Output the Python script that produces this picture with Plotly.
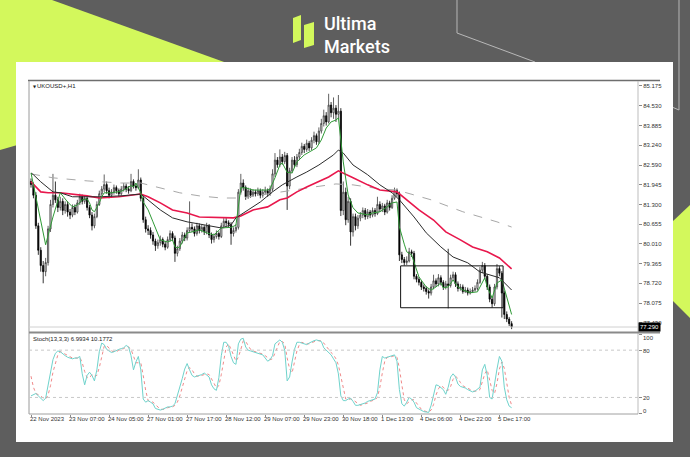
import plotly.graph_objects as go

# ---------------- UKOUSD+ H1 bars ----------------
opens = [82.05, 81.95, 81.60, 80.60, 79.80, 79.30, 79.10, 79.40, 80.50, 81.30,
         81.60, 81.45, 81.20, 81.40, 81.10, 81.30, 81.05, 80.95, 81.20, 81.05,
         81.35, 81.55, 81.40, 81.50, 81.20, 80.95, 80.60, 80.90, 81.30, 81.65,
         81.80, 81.95, 81.75, 81.60, 81.70, 81.85, 81.75, 81.65, 81.80, 81.90,
         81.80, 81.75, 82.05, 81.90, 81.85, 82.10, 81.50, 80.80, 80.50, 80.45,
         80.30, 80.10, 79.95, 80.05, 80.15, 80.00, 79.90, 80.15, 80.35, 80.20,
         79.70, 79.85, 80.10, 80.30, 80.20, 80.45, 80.55, 80.50, 80.35, 80.60,
         80.45, 80.55, 80.40, 80.60, 80.30, 80.15, 80.25, 80.35, 80.25, 80.60,
         80.75, 80.70, 80.65, 80.35, 80.45, 80.55, 81.70, 82.00, 81.85, 81.55,
         81.75, 81.60, 81.70, 81.65, 81.75, 81.60, 81.70, 81.75, 81.65, 81.80,
         82.30, 82.75, 82.60, 82.85, 82.70, 82.90, 81.90, 82.40, 82.75, 82.60,
         82.85, 83.00, 83.20, 83.10, 83.30, 83.15, 83.40, 83.55, 83.35, 83.70,
         83.95, 84.20, 84.00, 84.55, 84.30, 84.45, 84.25, 84.35, 81.10, 81.70,
         80.80, 81.40, 80.40, 80.90, 80.60, 80.85, 80.95, 81.10, 80.90, 81.05,
         80.95, 81.10, 81.00, 81.30, 81.15, 81.25, 81.05, 81.35, 81.20, 81.50,
         81.75, 81.65, 79.65, 79.50, 79.40, 79.45, 79.75, 79.70, 78.95, 78.85,
         78.75, 78.60, 78.55, 78.45, 78.40, 78.60, 78.80, 78.70, 78.90, 78.75,
         78.60, 78.70, 78.65, 78.90, 79.00, 78.70, 78.55, 78.60, 78.45, 78.50,
         78.40, 78.45, 78.50, 78.55, 78.75, 79.15, 79.30, 78.95, 78.60, 78.20,
         78.05, 78.60, 79.20, 79.05, 78.40, 77.70, 77.55, 77.40]

highs = [82.15, 82.02, 81.70, 80.70, 79.90, 79.45, 79.55, 80.60, 81.45, 82.30,
         82.05, 81.55, 81.55, 81.50, 81.40, 81.40, 81.15, 81.30, 81.30, 81.45,
         81.65, 81.62, 81.60, 81.58, 81.28, 81.05, 81.00, 81.40, 81.75, 81.90,
         82.28, 82.05, 81.85, 81.80, 81.95, 81.92, 81.82, 81.90, 82.00, 81.98,
         81.90, 82.30, 82.12, 81.98, 82.45, 82.18, 81.58, 80.90, 80.62, 80.55,
         80.40, 80.18, 80.15, 80.28, 80.22, 80.10, 80.25, 80.45, 80.42, 80.28,
         79.95, 80.20, 80.40, 80.38, 80.55, 81.40, 80.68, 80.58, 80.70, 80.68,
         80.65, 80.62, 80.70, 80.66, 80.38, 80.35, 80.45, 80.42, 80.70, 80.85,
         80.85, 80.78, 80.72, 80.55, 80.65, 81.80, 82.30, 82.12, 81.92, 81.85,
         81.82, 81.80, 81.78, 81.85, 81.82, 81.80, 81.88, 81.82, 81.92, 82.45,
         82.98, 82.85, 83.10, 82.95, 83.02, 82.98, 82.50, 82.85, 82.88, 82.95,
         83.12, 83.32, 83.28, 83.42, 83.38, 83.50, 83.68, 83.62, 83.82, 84.10,
         84.40, 84.32, 84.92, 84.65, 84.80, 84.55, 84.88, 84.45, 82.05, 81.85,
         81.55, 81.50, 81.00, 81.00, 80.95, 81.05, 81.20, 81.18, 81.15, 81.12,
         81.20, 81.18, 81.55, 81.40, 81.35, 81.32, 81.45, 81.42, 81.60, 81.85,
         81.82, 81.72, 79.75, 79.58, 79.60, 79.88, 79.82, 79.78, 79.02, 78.92,
         78.82, 78.68, 78.62, 78.52, 78.70, 79.00, 78.88, 79.02, 78.98, 78.82,
         78.80, 79.85, 79.00, 79.10, 79.08, 78.78, 78.70, 78.68, 78.60, 78.58,
         78.55, 78.60, 78.65, 78.85, 79.25, 79.42, 79.38, 79.02, 78.68, 78.28,
         78.70, 79.35, 79.28, 79.12, 78.48, 77.80, 77.62, 77.48]

lows = [81.85, 81.50, 80.50, 79.65, 79.10, 78.72, 78.95, 79.30, 80.40, 81.20,
        81.35, 81.05, 81.10, 80.95, 81.00, 80.90, 80.82, 80.88, 80.95, 81.00,
        81.28, 81.30, 81.32, 81.10, 80.85, 80.45, 80.52, 80.85, 81.25, 81.58,
        81.70, 81.65, 81.50, 81.52, 81.62, 81.65, 81.55, 81.58, 81.72, 81.70,
        81.65, 81.70, 81.82, 81.75, 81.80, 81.40, 80.70, 80.38, 80.30, 80.18,
        79.98, 79.78, 79.85, 79.95, 79.90, 79.80, 79.85, 80.08, 80.10, 79.42,
        79.60, 79.78, 80.02, 80.10, 80.12, 80.38, 80.40, 80.25, 80.28, 80.35,
        80.38, 80.30, 80.32, 80.20, 80.02, 80.05, 80.18, 80.15, 80.20, 80.52,
        80.60, 80.55, 79.98, 80.25, 80.38, 80.48, 81.62, 81.75, 81.45, 81.48,
        81.52, 81.55, 81.56, 81.58, 81.50, 81.52, 81.62, 81.55, 81.58, 81.72,
        82.20, 82.50, 82.52, 82.60, 82.62, 81.12, 81.80, 82.32, 82.50, 82.52,
        82.75, 82.92, 82.98, 83.02, 83.05, 83.08, 83.30, 83.25, 83.28, 83.62,
        83.85, 83.88, 83.95, 84.15, 84.10, 84.00, 84.10, 80.92, 80.95, 80.62,
        80.70, 79.95, 80.25, 80.45, 80.50, 80.75, 80.85, 80.80, 80.82, 80.85,
        80.88, 80.90, 80.95, 81.05, 81.05, 80.95, 81.00, 81.10, 81.15, 81.45,
        81.55, 79.45, 79.38, 79.30, 79.32, 79.40, 79.58, 78.85, 78.75, 78.65,
        78.50, 78.45, 78.35, 78.22, 78.32, 78.52, 78.60, 78.62, 78.65, 78.50,
        78.52, 77.90, 78.58, 78.82, 78.60, 78.45, 78.48, 78.38, 78.40, 78.32,
        78.35, 78.40, 78.45, 78.48, 78.70, 79.05, 78.85, 78.50, 78.10, 77.92,
        77.98, 78.52, 78.95, 77.60, 77.55, 77.45, 77.32, 77.22]

closes = [81.95, 81.60, 80.60, 79.80, 79.30, 79.10, 79.40, 80.50, 81.30, 81.60,
          81.45, 81.20, 81.40, 81.10, 81.30, 81.05, 80.95, 81.20, 81.05, 81.35,
          81.55, 81.40, 81.50, 81.20, 80.95, 80.60, 80.90, 81.30, 81.65, 81.80,
          81.95, 81.75, 81.60, 81.70, 81.85, 81.75, 81.65, 81.80, 81.90, 81.80,
          81.75, 82.05, 81.90, 81.85, 82.10, 81.50, 80.80, 80.50, 80.45, 80.30,
          80.10, 79.95, 80.05, 80.15, 80.00, 79.90, 80.15, 80.35, 80.20, 79.70,
          79.85, 80.10, 80.30, 80.20, 80.45, 80.55, 80.50, 80.35, 80.60, 80.45,
          80.55, 80.40, 80.60, 80.30, 80.15, 80.25, 80.35, 80.25, 80.60, 80.75,
          80.70, 80.65, 80.35, 80.45, 80.55, 81.70, 82.00, 81.85, 81.55, 81.75,
          81.60, 81.70, 81.65, 81.75, 81.60, 81.70, 81.75, 81.65, 81.80, 82.30,
          82.75, 82.60, 82.85, 82.70, 82.90, 81.90, 82.40, 82.75, 82.60, 82.85,
          83.00, 83.20, 83.10, 83.30, 83.15, 83.40, 83.55, 83.35, 83.70, 83.95,
          84.20, 84.00, 84.55, 84.30, 84.45, 84.25, 84.35, 81.10, 81.70, 80.80,
          81.40, 80.40, 80.90, 80.60, 80.85, 80.95, 81.10, 80.90, 81.05, 80.95,
          81.10, 81.00, 81.30, 81.15, 81.25, 81.05, 81.35, 81.20, 81.50, 81.75,
          81.65, 79.65, 79.50, 79.40, 79.45, 79.75, 79.70, 78.95, 78.85, 78.75,
          78.60, 78.55, 78.45, 78.40, 78.60, 78.80, 78.70, 78.90, 78.75, 78.60,
          78.70, 78.65, 78.90, 79.00, 78.70, 78.55, 78.60, 78.45, 78.50, 78.40,
          78.45, 78.50, 78.55, 78.75, 79.15, 79.30, 78.95, 78.60, 78.20, 78.05,
          78.60, 79.20, 79.05, 78.40, 77.70, 77.55, 77.40, 77.29]

bars = list(range(len(closes)))

# ---------------- moving averages (bar index, value) ----------------
fast_ma_bars = [0, 6, 9, 12, 15, 17, 19, 21, 23, 24, 25, 26, 28, 29, 30, 33, 37, 39, 41, 42,
                43, 45, 46, 48, 50, 52, 53, 56, 58, 59, 60, 61, 62, 64, 66, 69, 72, 75, 78, 82,
                84, 85, 86, 88, 91, 97, 98, 100, 102, 103, 105, 107, 109, 112, 114, 117, 119, 121, 123, 125,
                126, 128, 130, 132, 134, 138, 140, 143, 146, 148, 150, 151, 153, 154, 156, 157, 159, 162, 164, 166,
                168, 169, 171, 173, 175, 177, 180, 183, 185, 186, 187, 189, 191, 193, 195, 197]
fast_ma = [82.33, 79.98, 80.89, 81.68, 81.38, 81.22, 81.28, 81.45, 81.48, 81.35, 81.12, 81.06, 81.35, 81.55, 81.68, 81.68, 81.73, 81.81, 81.92, 81.87,
           82.00, 81.68, 81.38, 81.12, 80.73, 80.37, 80.14, 80.07, 80.14, 79.91, 79.88, 79.91, 80.07, 80.37, 80.40, 80.47, 80.37, 80.30, 80.53, 80.55,
           80.62, 81.30, 81.85, 81.84, 81.77, 81.77, 81.81, 82.17, 82.59, 82.66, 82.35, 82.33, 82.69, 82.92, 83.02, 83.15, 83.41, 83.80, 84.00, 84.06,
           84.13, 82.69, 81.61, 81.19, 81.02, 80.96, 81.02, 81.06, 81.22, 81.35, 81.38, 80.56, 80.00, 79.75, 79.65, 79.39, 78.93, 78.60, 78.50, 78.60,
           78.73, 78.57, 78.60, 78.83, 78.60, 78.50, 78.41, 78.44, 78.73, 78.90, 78.60, 78.24, 78.73, 78.83, 78.27, 77.70]

mid_ma_bars = [0, 1, 4, 7, 9, 12, 17, 28, 37, 45, 48, 53, 58, 64, 69, 78, 82, 84, 89, 94, 99,
               103, 109, 113, 118, 121, 124, 126, 128, 132, 138, 143, 148, 151, 157, 162, 168, 173, 179, 184, 188, 192, 197]
mid_ma = [82.33, 82.27, 82.04, 81.84, 81.71, 81.68, 81.55, 81.55, 81.58, 81.64, 81.45, 81.12, 80.86, 80.73, 80.66, 80.53, 80.63, 80.86, 81.12, 81.38, 81.71,
          81.94, 82.20, 82.36, 82.59, 82.76, 82.92, 83.08, 82.98, 82.59, 82.27, 81.94, 81.68, 81.45, 80.89, 80.37, 79.91, 79.58, 79.39, 79.09, 78.99, 78.90, 78.50]

slow_ma_bars = [0, 4, 7, 12, 23, 28, 36, 41, 45, 48, 53, 58, 64, 69, 77, 83, 86, 91, 97, 102,
                105, 109, 113, 118, 122, 126, 128, 132, 138, 143, 150, 154, 159, 165, 170, 176, 181, 187, 192, 197]
slow_ma = [82.04, 81.71, 81.68, 81.68, 81.58, 81.51, 81.55, 81.61, 81.64, 81.55, 81.35, 81.12, 81.02, 80.89, 80.86, 80.86, 80.92, 81.12, 81.22, 81.45,
           81.51, 81.71, 81.87, 82.04, 82.20, 82.40, 82.33, 82.17, 81.94, 81.77, 81.71, 81.45, 81.12, 80.79, 80.40, 80.14, 79.91, 79.75, 79.55, 79.19]

long_ma_bars = [0, 9, 23, 37, 45, 53, 61, 69, 78, 86, 94, 105, 116, 125, 132, 143, 150, 164, 177, 191, 197]
long_ma = [82.30, 82.17, 82.07, 82.00, 82.00, 81.84, 81.68, 81.58, 81.51, 81.51, 81.61, 81.74, 81.87, 81.97, 81.94, 81.81, 81.77, 81.45, 81.06, 80.73, 80.56]

# ---------------- Stochastic (13,3,3) ----------------
stoch_main = [22, 24, 25, 22, 19, 16, 19, 35, 52, 68,
              76, 79, 78, 75, 73, 71, 70, 69, 70, 70,
              72, 50, 36, 48, 52, 48, 41, 55, 78, 89,
              87, 81, 79, 77, 78, 80, 81, 82, 83, 86,
              84, 73, 55, 65, 72, 55, 18, 14, 16, 14,
              12, 6, 5, 4, 5, 7, 8, 8, 9, 12,
              22, 31, 44, 56, 63, 55, 48, 46, 47, 48,
              49, 51, 49, 46, 36, 31, 29, 45, 73, 90,
              90, 85, 72, 64, 62, 88, 94, 95, 84, 80,
              79, 78, 77, 76, 75, 74, 70, 66, 68, 73,
              88, 91, 93, 90, 80, 41, 46, 65, 81, 90,
              90, 89, 88, 87, 89, 91, 92, 93, 92, 91,
              83, 80, 78, 74, 69, 64, 50, 22, 16, 16,
              18, 19, 15, 10, 10, 11, 12, 13, 15, 16,
              17, 18, 26, 55, 72, 70, 71, 72, 73, 74,
              66, 30, 12, 9, 14, 20, 18, 14, 7, 5,
              3, 2, 1.5, 1, 10, 22, 36, 35, 33, 30,
              24, 33, 46, 50, 46, 37, 34, 33, 32, 30,
              28, 27, 28, 30, 33, 55, 62, 48, 20, 18,
              40, 56, 72, 66, 33, 17, 9, 6.9934]

stoch_signal = [47, 33, 25, 24, 22, 19, 18, 23, 35, 52,
                65, 74, 78, 77, 75, 73, 71, 70, 70, 70,
                71, 64, 53, 45, 45, 49, 47, 48, 58, 74,
                85, 86, 82, 79, 78, 78, 80, 81, 82, 84,
                84, 81, 71, 64, 64, 64, 48, 29, 16, 15,
                14, 11, 8, 5, 5, 5, 7, 8, 8, 10,
                14, 22, 32, 44, 54, 58, 55, 50, 47, 47,
                48, 49, 50, 49, 44, 38, 32, 35, 49, 69,
                84, 88, 82, 74, 66, 71, 81, 92, 91, 86,
                81, 79, 78, 77, 76, 75, 73, 70, 68, 69,
                76, 84, 91, 91, 88, 70, 56, 51, 64, 79,
                87, 90, 89, 88, 88, 89, 91, 92, 92, 92,
                89, 85, 80, 77, 74, 69, 61, 45, 29, 18,
                17, 18, 17, 15, 12, 10, 11, 12, 13, 15,
                16, 17, 20, 33, 51, 66, 71, 71, 72, 73,
                71, 57, 36, 17, 12, 14, 17, 17, 13, 9,
                5, 3, 2, 1.5, 4, 11, 23, 31, 35, 33,
                29, 29, 34, 43, 47, 44, 39, 35, 33, 32,
                30, 28, 28, 28, 30, 39, 50, 55, 43, 29,
                25, 38, 56, 65, 57, 39, 20, 10.1772]

stoch_levels = [20, 80]
stoch_labels = [100, 80, 20, 0]

# ---------------- axes text ----------------
price_ticks = [85.175, 84.530, 83.885, 83.240, 82.590, 81.945, 81.300,
               80.655, 80.010, 79.365, 78.720, 78.075, 77.430]
date_tick_bars = [0, 16, 32, 48, 64, 80, 96, 112, 128, 144, 160, 176, 192]
date_labels = ["22 Nov 2023", "23 Nov 07:00", "24 Nov 05:00", "27 Nov 01:00",
               "27 Nov 17:00", "28 Nov 12:00", "29 Nov 07:00", "29 Nov 23:00",
               "30 Nov 18:00", "1 Dec 13:00", "4 Dec 06:00", "4 Dec 22:00",
               "5 Dec 17:00"]
last_price = 77.29

# consolidation range drawn on the chart
range_box_bars = [151.5, 193.5]
range_box_prices = [77.92, 79.29]

# ---------------- page geometry (pixels) ----------------
W, H = 690, 457
L, R, T, B = 29, 638, 81, 414


def fx(px):
    return (px - L) / (R - L)


def fy(py):
    return (B - py) / (B - T)


def poly(points):
    return "M " + " L ".join(f"{fx(x):.5f},{fy(y):.5f}" for x, y in points) + " Z"


def polyline(points):
    return "M " + " L ".join(f"{fx(x):.5f},{fy(y):.5f}" for x, y in points)


LIME = "#d3f85c"
BG = "#5e5e5e"
FONT = "Liberation Sans"

fig = go.Figure()

fig.add_trace(go.Candlestick(
    x=bars, open=opens, high=highs, low=lows, close=closes,
    increasing=dict(line=dict(color="#3a3a3a", width=0.8), fillcolor="#ffffff"),
    decreasing=dict(line=dict(color="#000000", width=0.8), fillcolor="#000000"),
    whiskerwidth=0, showlegend=False, hoverinfo="skip",
    xaxis="x", yaxis="y"))

fig.add_trace(go.Scatter(x=long_ma_bars, y=long_ma, mode="lines",
                         line=dict(color="#a8a8a8", width=1, dash="dash"),
                         showlegend=False, hoverinfo="skip", xaxis="x", yaxis="y"))
fig.add_trace(go.Scatter(x=slow_ma_bars, y=slow_ma, mode="lines",
                         line=dict(color="#e8174c", width=1.6),
                         showlegend=False, hoverinfo="skip", xaxis="x", yaxis="y"))
fig.add_trace(go.Scatter(x=mid_ma_bars, y=mid_ma, mode="lines",
                         line=dict(color="#2b2b2b", width=1),
                         showlegend=False, hoverinfo="skip", xaxis="x", yaxis="y"))
fig.add_trace(go.Scatter(x=fast_ma_bars, y=fast_ma, mode="lines",
                         line=dict(color="#2f9a36", width=1),
                         showlegend=False, hoverinfo="skip", xaxis="x", yaxis="y"))

fig.add_trace(go.Scatter(x=bars, y=stoch_signal, mode="lines",
                         line=dict(color="#f08a8a", width=1, dash="dot"),
                         showlegend=False, hoverinfo="skip", xaxis="x", yaxis="y2"))
fig.add_trace(go.Scatter(x=bars, y=stoch_main, mode="lines",
                         line=dict(color="#6fd3cc", width=1),
                         showlegend=False, hoverinfo="skip", xaxis="x", yaxis="y2"))

shapes = []
# branded backdrop
shapes.append(dict(type="path", path=poly([(0, 0), (52, 0), (260, 75), (0, 150)]),
                   xref="paper", yref="paper", fillcolor=LIME, line=dict(width=0), layer="below"))
shapes.append(dict(type="path", path=poly([(690, 205), (672, 222), (672, 300), (690, 318)]),
                   xref="paper", yref="paper", fillcolor=LIME, line=dict(width=0), layer="below"))
shapes.append(dict(type="path", path=polyline([(457, 0), (457, 33), (535, 62)]),
                   xref="paper", yref="paper", line=dict(color="#b8b8b8", width=1), layer="below"))
shapes.append(dict(type="path", path=polyline([(679, 0), (679, 110), (672, 107)]),
                   xref="paper", yref="paper", line=dict(color="#b8b8b8", width=1), layer="below"))
shapes.append(dict(type="rect", x0=fx(16), x1=fx(673), y0=fy(442), y1=fy(62),
                   xref="paper", yref="paper", fillcolor="#ffffff", line=dict(width=0), layer="below"))
# logo mark
shapes.append(dict(type="path", path=poly([(293, 18), (301, 15), (301, 40), (293, 43)]),
                   xref="paper", yref="paper", fillcolor=LIME, line=dict(width=0)))
shapes.append(dict(type="path", path=poly([(304, 25), (314, 22), (314, 45), (304, 48)]),
                   xref="paper", yref="paper", fillcolor=LIME, line=dict(width=0)))

# terminal window frame
shapes.append(dict(type="line", x0=fx(28), x1=fx(660), y0=fy(80.5), y1=fy(80.5),
                   xref="paper", yref="paper", line=dict(color="#6e6e6e", width=1.5)))
shapes.append(dict(type="line", x0=fx(29), x1=fx(29), y0=fy(81), y1=fy(414),
                   xref="paper", yref="paper", line=dict(color="#9a9a9a", width=1)))
shapes.append(dict(type="line", x0=fx(638), x1=fx(638), y0=fy(81), y1=fy(414),
                   xref="paper", yref="paper", line=dict(color="#bdbdbd", width=1)))
shapes.append(dict(type="line", x0=fx(29), x1=fx(660), y0=fy(332.5), y1=fy(332.5),
                   xref="paper", yref="paper", line=dict(color="#8a8a8a", width=2)))
shapes.append(dict(type="line", x0=fx(29), x1=fx(638), y0=fy(414), y1=fy(414),
                   xref="paper", yref="paper", line=dict(color="#a0a0a0", width=1)))
# bid line
shapes.append(dict(type="line", x0=0, x1=1, y0=last_price, y1=last_price,
                   xref="paper", yref="y", line=dict(color="#d0d0d0", width=1)))
# stochastic levels
for lv in stoch_levels:
    shapes.append(dict(type="line", x0=0, x1=1, y0=lv, y1=lv, xref="paper", yref="y2",
                       line=dict(color="#c8c8c8", width=1, dash="dot")))
# consolidation box
shapes.append(dict(type="rect", x0=range_box_bars[0], x1=range_box_bars[1],
                   y0=range_box_prices[0], y1=range_box_prices[1],
                   xref="x", yref="y", line=dict(color="#111111", width=1),
                   fillcolor="rgba(0,0,0,0)"))

annotations = []
# logo words, stacked on a shared baseline gap
annotations.append(dict(text="Ultima", x=fx(323), y=fy(34.5), xref="paper", yref="paper",
                        xanchor="left", yanchor="bottom", showarrow=False, borderpad=0,
                        font=dict(family="Roboto", size=18, color="#ffffff", weight=500)))
annotations.append(dict(text="Markets", x=fx(323), y=fy(34.5), xref="paper", yref="paper",
                        xanchor="left", yanchor="top", showarrow=False, borderpad=0,
                        yshift=-0.5,
                        font=dict(family="Roboto", size=18, color="#ffffff", weight=500)))
# window captions
annotations.append(dict(text="▼", x=fx(31), y=fy(86), xref="paper", yref="paper",
                        xanchor="left", yanchor="middle", showarrow=False,
                        font=dict(family="DejaVu Sans", size=4, color="#222")))
annotations.append(dict(text="UKOUSD+,H1", x=fx(35), y=fy(86), xref="paper", yref="paper",
                        xanchor="left", yanchor="middle", showarrow=False,
                        font=dict(family=FONT, size=6, color="#222")))
annotations.append(dict(text=f"Stoch(13,3,3) {stoch_main[-1]:.4f} {stoch_signal[-1]:.4f}",
                        x=fx(31), y=fy(339), xref="paper", yref="paper",
                        xanchor="left", yanchor="middle", showarrow=False,
                        font=dict(family=FONT, size=6, color="#222")))
# stochastic scale labels
stoch_label_y = {100: 338, 80: 350.7, 20: 398.3, 0: 410.7}
for lv in stoch_labels:
    annotations.append(dict(text=str(lv), x=fx(641), y=fy(stoch_label_y[lv]),
                            xref="paper", yref="paper", xanchor="left", yanchor="middle",
                            showarrow=False, font=dict(family=FONT, size=6, color="#333")))
# time scale labels
for b, lab in zip(date_tick_bars, date_labels):
    annotations.append(dict(text=lab, x=b, y=fy(419.5), xref="x", yref="paper",
                            xanchor="left", yanchor="middle", xshift=-3, showarrow=False,
                            font=dict(family=FONT, size=6, color="#333")))
# current price tag
annotations.append(dict(text=f"{last_price:.3f}", x=1, y=last_price, xref="paper", yref="y",
                        xanchor="left", yanchor="middle", showarrow=False, xshift=0,
                        bgcolor="#000000", borderpad=1,
                        font=dict(family=FONT, size=6, color="#ffffff")))

fig.update_layout(
    width=W, height=H, autosize=False,
    margin=dict(l=L, r=W - R, t=T, b=H - B, pad=0),
    paper_bgcolor=BG, plot_bgcolor="rgba(0,0,0,0)",
    shapes=shapes, annotations=annotations,
    xaxis=dict(range=[-0.82, 248.8], anchor="y2", showgrid=False, zeroline=False,
               showticklabels=False, ticks="outside", tickvals=date_tick_bars,
               ticklen=2, tickcolor="#888", showline=False,
               rangeslider=dict(visible=False), fixedrange=True),
    yaxis=dict(domain=[(B - 331) / (B - T), 1], range=[77.159, 85.338], side="right",
               anchor="x", tickvals=price_ticks, ticktext=[f"{v:.3f}" for v in price_ticks],
               ticks="outside", ticklen=3, tickcolor="#888", showgrid=False, zeroline=False,
               showline=False, tickfont=dict(family=FONT, size=6, color="#333"),
               fixedrange=True),
    yaxis2=dict(domain=[0, (B - 334) / (B - T)], range=[-1, 100.5], side="right",
                anchor="x", tickvals=stoch_labels, showticklabels=False, ticks="outside",
                ticklen=3, tickcolor="#888", showgrid=False, zeroline=False, showline=False,
                fixedrange=True),
)

fig.write_html("out.html")
